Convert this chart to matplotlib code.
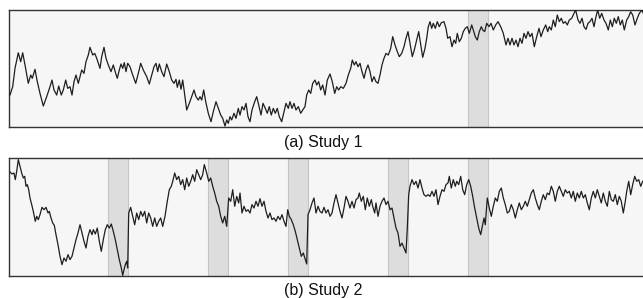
import numpy as np
import matplotlib
matplotlib.use("Agg")
import matplotlib.pyplot as plt

plt.rcParams['font.family'] = ['Liberation Sans', 'DejaVu Sans']

# Study 1: time (samples) and value
t1 = [1, 3.7, 6, 9.3, 11.7, 13.7, 16, 19.3, 21.7, 23.3, 26, 28.3, 31, 34.3, 37.7, 41, 43, 45, 47.7, 49.7,
      52.3, 54.3, 56.7, 58.7, 61, 63, 65, 67, 69.3, 72.7, 75, 77, 79.3, 81, 83.7, 85.7, 87.7, 91, 92.7, 95,
      97, 99.3, 102, 104.3, 106.7, 108.3, 110.3, 112, 113.7, 115.3, 117, 118.7, 121, 123.7, 126.7, 129.3, 131.7, 134.3, 137.7, 140.3,
      142.7, 145, 147, 148.7, 150.3, 152.7, 155, 157.7, 160.3, 162.7, 165, 167, 168.3, 170.3, 172, 173.7, 175.3, 177.7, 180.3, 182.7,
      185, 187, 189.3, 191, 192.7, 194.7, 196.7, 199.3, 202, 204.3, 207, 209.3, 211.7, 213.7, 216, 217.7, 219.3, 221, 222.7, 225,
      227, 229.3, 231, 233, 235, 237, 239, 241, 243, 245.7, 247.7, 249.7, 252, 254, 256.3, 258.3, 260.3, 262.3, 264.3, 266.3,
      268.3, 270.3, 272.7, 275, 277, 279.3, 281, 283, 285, 287, 289.3, 291.7, 293.7, 296, 297.7, 299.7, 301.7, 303.7, 306, 307.7,
      309.7, 311.7, 313.7, 316, 318.3, 321, 323.3, 325.7, 327.7, 329.7, 331.7, 334.3, 337, 339.3, 341.7, 343.3, 345.3, 347, 349, 351,
      353, 355, 357, 359, 361, 363, 365, 367, 369, 371, 373, 375, 377, 379.3, 381.7, 383.7, 386, 388.3, 390.3, 392.7,
      395, 397, 399, 401, 403.3, 405.3, 407.7, 409.7, 412, 413.7, 416, 417.7, 419.3, 421, 422.7, 424.3, 426.3, 428.3, 430.3, 432.3,
      435, 437, 438.7, 441, 443, 445, 446.7, 448.3, 450.3, 452.3, 454.3, 456.3, 458.3, 460.3, 462.7, 464.3, 466.3, 468.3, 470.3, 472.3,
      473.7, 475.7, 477.7, 480, 482, 484.3, 486.7, 489, 491.7, 494.3, 497, 499, 501, 503, 505, 507, 509, 511, 513, 515,
      517, 519, 521, 523, 525.3, 527.7, 530, 532, 534.3, 536.7, 538.7, 540.3, 542.3, 544.3, 546.3, 548.3, 550.3, 552.3, 554.3, 556.3,
      558.3, 560.3, 562.7, 565, 566.7, 569, 571, 573, 575, 577, 579, 581, 583, 585, 587, 588.7, 590.7, 592.7, 595, 597,
      599.3, 601.3, 603.3, 605.3, 607.3, 609.3, 611.3, 613.3, 615.3, 617.7, 619.7, 621.7, 623.7, 626, 628.3, 630.3, 633, 634.3]
v1 = [27, 34, 49.7, 63, 55.4, 63, 52.6, 36.9, 44, 41.2, 48.9, 38.3, 28.3, 17.5, 25.5, 34, 39.7, 31.2, 26.9, 34.6,
      26.9, 31.2, 39.7, 32.6, 34, 26.9, 38.3, 44, 36.9, 48.3, 45.4, 55.4, 61.1, 67.7, 61.1, 62.5, 58.3, 49.7, 59.7, 67.7,
      58.3, 52.6, 46.9, 52.6, 45.4, 41.2, 48.3, 53.4, 49.7, 54.6, 46.9, 54, 51.1, 44, 36.9, 45.4, 54, 48.3, 42.6, 36.3,
      44, 51.1, 54, 46.9, 53.4, 46.9, 42.6, 53.4, 46.9, 39.7, 36.9, 40.3, 33.5, 39.7, 31.8, 39.7, 29.8, 14.1, 19.8, 25.5,
      31.2, 25.5, 22.6, 25.5, 22.6, 31.2, 21.2, 11.3, 4.1, 12.7, 21.2, 15.5, 9.8, 7, 0.4, 5.6, 2.7, 8.4, 5.6, 11.3,
      7, 15.5, 9.8, 17, 14.1, 19.8, 8.4, 4.1, 14.1, 21.2, 25.5, 18.4, 9.8, 19.8, 15.5, 11.3, 17, 9.8, 15.5, 11.3,
      15.5, 8.4, 4.1, 12.7, 19.8, 15.5, 21.2, 15.5, 19.8, 14.1, 17, 11.3, 14.1, 17, 26.9, 31.2, 28.3, 36.9, 39.7, 35.5,
      38.3, 31.2, 35.5, 26.9, 39.7, 44.9, 38.3, 28.3, 34, 31.2, 34, 32.6, 36.9, 44, 49.7, 56.8, 52.6, 55.4, 51.1, 54,
      46.9, 41.2, 48.3, 52.6, 46.9, 38.3, 42.6, 38.3, 36.9, 44, 52.6, 58.3, 62.5, 61.1, 66.8, 76.8, 69.7, 64, 59.7, 62.5,
      68.2, 75.4, 81.1, 71.1, 59.7, 65.4, 73.9, 81.1, 68.2, 59.1, 66.8, 75.4, 85.3, 89.6, 83.9, 88.2, 83.9, 89.6, 85.3, 88.7,
      89.6, 83.9, 75.4, 76.8, 68.2, 73.9, 71.1, 79.6, 72.5, 75.4, 81.1, 83.9, 85.3, 79.6, 86.8, 82.5, 76.8, 73.9, 81.1, 85.3,
      82.5, 81.1, 88.2, 85.3, 88.2, 82.5, 86.8, 89.6, 85.3, 79.6, 69.7, 75.4, 69.7, 75.4, 69.7, 73.9, 68.2, 75.4, 71.1, 79.6,
      75.4, 81.1, 76.8, 79.6, 68.2, 76.8, 83.9, 76.8, 82.5, 86.8, 81.1, 85.3, 82.5, 91, 85.3, 95.3, 89.6, 92.5, 88.2, 89.6,
      86.8, 91, 92.5, 96.7, 99.5, 91, 88.2, 92.5, 85.3, 83, 88.2, 89.6, 92.5, 85.3, 93.9, 99.6, 92.5, 96.7, 91, 88.2,
      82.5, 91, 85.3, 92.5, 88.2, 93.9, 86.8, 91, 82.5, 91, 93.9, 98.1, 95.3, 86.8, 92.5, 96.7, 99.6, 96.7]

# Study 2
t2 = [1, 3, 5, 6.3, 7.7, 9.3, 11, 12.7, 14.3, 15.7, 17, 18.3, 19.7, 21, 22.7, 24.3, 26.3, 27.7, 29.3, 31,
      33, 35, 37, 39, 40.3, 42, 43.7, 45.3, 47, 49, 51, 53, 55, 57, 59, 61, 63, 65, 67, 69,
      71, 73, 75, 77, 79, 81, 83, 84.3, 86.3, 88.3, 90.3, 92.3, 94.3, 96.3, 98.3, 100.3, 102.3, 104.3, 106.3, 108.3,
      110.3, 112.3, 113.7, 115, 116.3, 117.7, 118.7, 119.7, 121.7, 123.7, 125.7, 127.7, 129.7, 131.7, 133.7, 135.7, 137.7, 139.7, 141.7, 143.7,
      145.7, 147.7, 149.7, 151.7, 153.7, 156, 158.3, 160.3, 162.3, 163.7, 165.7, 167.7, 169.7, 171.7, 173.7, 175.7, 177.7, 179.7, 181.7, 183.7,
      185.7, 187.7, 189.7, 191.7, 193.7, 195.3, 197.7, 199.7, 201.7, 203.7, 205.7, 207.7, 209.7, 211.7, 213.7, 215.7, 217.7, 219.7, 221.7, 223.7,
      225.7, 227.7, 229.7, 231, 233, 235, 237, 239, 241, 243, 245, 247, 249, 251, 253, 255, 257, 259, 261, 263,
      265, 267, 269, 271, 273, 275, 277, 278.7, 280.3, 282.3, 284.3, 286.3, 288.3, 290.3, 292.3, 294.3, 296.3, 297.7, 299, 301,
      303, 305, 307, 309, 311, 313, 315, 317, 319, 321, 323, 325, 327, 329, 331, 333, 335, 337, 339, 341,
      343, 345, 347, 349, 350.3, 352.3, 354.3, 356.3, 358.3, 360.3, 362.3, 363.7, 365.7, 367, 369, 371, 373, 375, 377, 379,
      381, 383, 385, 387, 389, 391, 393, 395, 397, 398.3, 399.7, 401, 403, 405, 407, 409, 411, 413, 415, 417,
      419, 421, 423, 425, 427, 429, 431, 433, 435, 437, 439, 440.3, 442.3, 444.3, 446.3, 447.7, 449.7, 451.7, 453.7, 455.7,
      457.7, 459.7, 461.7, 463.7, 465.7, 467.7, 469.7, 471.7, 473, 475, 476.3, 478.3, 480.3, 482.3, 484.3, 486.3, 488.3, 490.3, 492.3, 494.3,
      496.3, 498.3, 500.3, 502.3, 504.3, 506.3, 508.3, 510.3, 512.3, 514.3, 516.3, 518.3, 520.3, 522.3, 524.3, 526.3, 528.3, 530.3, 532.3, 534.3,
      536.3, 538.3, 540.3, 542.3, 544.3, 546.3, 548.3, 550.3, 552.3, 554.3, 556.3, 558.3, 560.3, 562.3, 564.3, 566.3, 568.3, 570.3, 572.3, 574.3,
      576.3, 578.3, 580.3, 582.3, 584.3, 586.3, 588.3, 590.3, 592.3, 594.3, 596.3, 598.3, 600.3, 602.3, 604.3, 606.3, 608.3, 610.3, 612.3, 614.3,
      616.3, 617.7, 619.7, 621.7, 623.7, 625.7, 627.7, 629.7, 631.7, 633.7]
v2 = [88.2, 86.5, 87.3, 81.7, 88.7, 98.6, 93, 87.3, 83.1, 84.5, 76.1, 77.5, 73.2, 66.2, 60.6, 54.9, 46.5, 50.7, 47.9, 52.1,
      58.3, 56.3, 58.3, 53.5, 54.9, 49.3, 45.1, 43.1, 35.2, 26.7, 16.9, 9.8, 15.5, 12.7, 18.3, 14.1, 16.9, 23.9, 31, 36.6,
      43.6, 36.6, 29.6, 23.9, 33.8, 39.4, 35.2, 39.4, 35.8, 40.8, 29.6, 21.1, 31, 39.4, 43.6, 40.8, 44.2, 38, 31, 22.5,
      14.1, 7, 0.8, 5.6, 9.8, 12.7, 7, 53.5, 58.3, 50.7, 43.6, 53.5, 47.9, 54.9, 50.7, 54.9, 45.1, 53.5, 49.3, 42.2,
      49.3, 42.2, 46.5, 49.3, 42.2, 50.7, 63.4, 73.2, 76.1, 80.3, 87.3, 81.7, 84.5, 77.5, 81.7, 73.2, 83.1, 76.1, 80.3, 85.9,
      80.3, 90.1, 85.9, 81.7, 85.9, 94.4, 87.3, 80.3, 83.1, 76.1, 70.4, 63.4, 59.2, 50.7, 45.1, 50.7, 42.2, 66.2, 63.4, 73.2,
      59.2, 67.6, 62, 70.4, 53.5, 59.2, 54.9, 56.3, 53.5, 60.6, 57.7, 63.4, 59.2, 65.6, 59.2, 63.4, 54.9, 49.3, 53.5, 47.9,
      49.3, 46.5, 50.7, 47.9, 52.1, 46.5, 42.2, 56.3, 50.7, 47.9, 43.6, 38, 31, 23.9, 16.9, 19.7, 14.1, 10.4, 52.1, 56.3,
      62, 66.2, 53.5, 59.2, 54.9, 53.5, 58.3, 53.5, 56.3, 50.7, 53.5, 62, 69, 62, 54.9, 49.3, 57.7, 67.6, 63.4, 57.7,
      63.4, 57.7, 64.8, 66.2, 70.4, 63.4, 67.6, 56.3, 66.2, 59.2, 64.8, 59.2, 53.5, 62, 50.7, 59.2, 63.4, 66.2, 60.6, 63.4,
      56.3, 57.7, 49.3, 40.8, 36.6, 25.3, 28.1, 23.9, 19.7, 40.8, 69, 76.1, 81.7, 77.5, 80.3, 74.6, 81.7, 74.6, 69, 67.6,
      69, 67.6, 71.8, 67.6, 73.2, 60.6, 67.6, 73.2, 71.8, 77.5, 78.9, 84.5, 74.6, 81.7, 76.1, 80.3, 77.5, 84.5, 73.2, 69,
      77.5, 81.7, 76.1, 67.6, 57.7, 49.3, 40.8, 35.2, 40.8, 49.3, 43.6, 66.2, 57.7, 50.7, 59.2, 66.2, 63.4, 71.8, 74.6, 66.2,
      60.6, 53.5, 54.9, 60.6, 56.3, 49.3, 56.3, 62, 56.3, 59.2, 63.4, 59.2, 64.8, 70.4, 73.2, 66.2, 60.6, 56.3, 63.4, 69,
      64.8, 70.4, 69, 76.1, 71.8, 63.4, 71.8, 76.1, 71.8, 67.6, 73.2, 70.4, 71.8, 66.2, 71.8, 63.4, 70.4, 66.2, 71.8, 66.2,
      69, 62, 56.3, 66.2, 71.8, 66.2, 73.2, 67.6, 62, 70.4, 63.4, 59.2, 71.8, 64.8, 63.4, 69, 60.6, 67.6, 63.4, 53.5,
      63.4, 71.8, 80.3, 69, 77.5, 84.5, 80.3, 81.7, 76.1, 80.3]

# shaded periods (start of each window, window length 20)
shade1 = [459]
shade2 = [99, 199, 279, 379, 459]
shade_len = 20

captions = ['(a) Study 1', '(b) Study 2']

fig = plt.figure(figsize=(6.43, 2.98), dpi=100)
ax1 = fig.add_axes([9 / 643, 1 - 126.5 / 298, 1 - 9 / 643, 117 / 298])
ax2 = fig.add_axes([9 / 643, 1 - 276.3 / 298, 1 - 9 / 643, 118.3 / 298])

for ax, t, v, shades in [(ax1, t1, v1, shade1), (ax2, t2, v2, shade2)]:
    ax.set_facecolor('#f6f6f6')
    for s in shades:
        ax.axvspan(s, s + shade_len, facecolor='#dddddd', edgecolor='#c4c4c4', lw=0.8, zorder=1)
    ax.plot(t, v, color='#1e1e1e', lw=0.9, zorder=3)
    ax.set_xlim(0, 634)
    ax.set_ylim(0, 100)
    ax.set_xticks([])
    ax.set_yticks([])
    ax.spines['right'].set_visible(False)
    for sp in ['left', 'top', 'bottom']:
        ax.spines[sp].set_color('#333333')
        ax.spines[sp].set_linewidth(1.0)

fig.text(0.503, 1 - 142 / 298, captions[0], ha='center', va='center', fontsize=11.5, color='#111111')
fig.text(0.503, 1 - 290.5 / 298, captions[1], ha='center', va='center', fontsize=11.5, color='#111111')

fig.savefig('out.png', dpi=100)
